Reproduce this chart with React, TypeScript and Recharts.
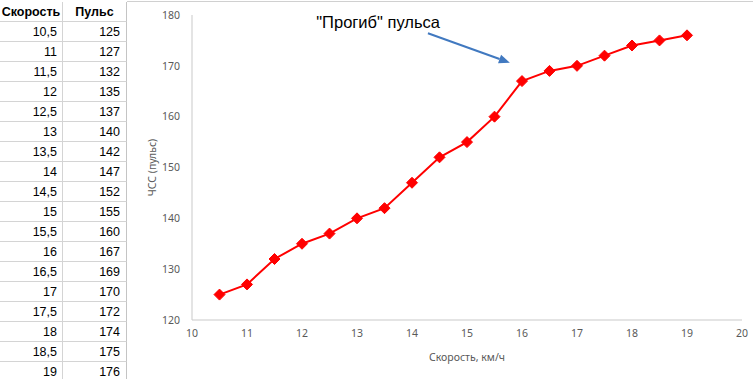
import React from 'react';
import { LineChart, Line, XAxis, YAxis, ReferenceLine } from 'recharts';

const speeds = [10.5, 11, 11.5, 12, 12.5, 13, 13.5, 14, 14.5, 15, 15.5, 16, 16.5, 17, 17.5, 18, 18.5, 19];
const pulses = [125, 127, 132, 135, 137, 140, 142, 147, 152, 155, 160, 167, 169, 170, 172, 174, 175, 176];
const speedLabels = ['10,5', '11', '11,5', '12', '12,5', '13', '13,5', '14', '14,5', '15', '15,5', '16', '16,5', '17', '17,5', '18', '18,5', '19'];
const xTicks = [10, 11, 12, 13, 14, 15, 16, 17, 18, 19, 20];
const yTicks = [120, 130, 140, 150, 160, 170, 180];
const headers = ['Скорость', 'Пульс'];
const annotationText = '"Прогиб" пульса';
const arrowFrom = { x: 14.29, y: 176.4 };
const arrowTo = { x: 15.78, y: 170.6 };

const data = speeds.map((s, i) => ({ speed: s, pulse: pulses[i] }));

const AXIS_COLOR = '#595959';
const LINE_COLOR = '#c9c9c9';
const FONT = '"Noto Sans", "Open Sans", sans-serif';

const Diamond = (props: any) => {
  const { cx, cy, index } = props;
  if (cx == null || cy == null) return null;
  const r = 5.5;
  return (
    <polygon
      key={`d-${index}`}
      points={`${cx},${cy - r} ${cx + r},${cy} ${cx},${cy + r} ${cx - r},${cy}`}
      fill="#ff0000"
      stroke="#ff0000"
    />
  );
};

const ArrowShape = (props: any) => {
  const { x1, y1, x2, y2 } = props;
  if ([x1, y1, x2, y2].some((v) => v == null || isNaN(v))) return null;
  const ang = Math.atan2(y2 - y1, x2 - x1);
  const len = 11;
  const w = 4.5;
  const bx = x2 - len * Math.cos(ang);
  const by = y2 - len * Math.sin(ang);
  const px = -Math.sin(ang);
  const py = Math.cos(ang);
  return (
    <g>
      <line x1={x1} y1={y1} x2={bx} y2={by} stroke="#4179c0" strokeWidth={2} />
      <polygon
        points={`${x2},${y2} ${bx + w * px},${by + w * py} ${bx - w * px},${by - w * py}`}
        fill="#4179c0"
      />
      <text
        x={x1 + 12}
        y={y1 - 5}
        textAnchor="end"
        fontFamily='"Liberation Sans", Arial, sans-serif'
        fontSize={16.5}
        fill="#000"
      >
        {annotationText}
      </text>
    </g>
  );
};

const YLabel = (props: any) => {
  const vb = props.viewBox || {};
  const x = vb.x + 20;
  const y = vb.y + vb.height / 2;
  return (
    <text
      x={x}
      y={y}
      transform={`rotate(-90, ${x}, ${y})`}
      textAnchor="middle"
      dominantBaseline="central"
      fontFamily={FONT}
      fontSize={10.5}
      fill={AXIS_COLOR}
    >
      ЧСС (пульс)
    </text>
  );
};

const XLabel = (props: any) => {
  const vb = props.viewBox || {};
  const x = vb.x + vb.width / 2;
  const y = vb.y + 37;
  return (
    <text
      x={x}
      y={y}
      textAnchor="middle"
      dominantBaseline="central"
      fontFamily={FONT}
      fontSize={10.5}
      fill={AXIS_COLOR}
    >
      Скорость, км/ч
    </text>
  );
};

const ROW_H = 20;
const TABLE_TOP = 1.5;
const COL1_W = 63;
const COL2_W = 64;

const Table = () => {
  const cellBase: React.CSSProperties = {
    position: 'absolute',
    height: ROW_H,
    lineHeight: `${ROW_H}px`,
    fontFamily: '"Liberation Sans", Arial, sans-serif',
    fontSize: 12.5,
    color: '#000',
    whiteSpace: 'nowrap',
    boxSizing: 'border-box',
    borderBottom: '1px solid #d4d4d4',
  };
  const rows: React.ReactNode[] = [];
  rows.push(
    <div key="h1" style={{ ...cellBase, top: TABLE_TOP, left: 0, width: COL1_W, textAlign: 'center', fontWeight: 'bold', borderRight: '1px solid #d4d4d4' }}>
      {headers[0]}
    </div>,
    <div key="h2" style={{ ...cellBase, top: TABLE_TOP, left: COL1_W, width: COL2_W, textAlign: 'center', fontWeight: 'bold', borderRight: '1px solid #c4c4c4' }}>
      {headers[1]}
    </div>
  );
  speedLabels.forEach((s, i) => {
    const top = TABLE_TOP + ROW_H * (i + 1);
    rows.push(
      <div key={`a${i}`} style={{ ...cellBase, top, left: 0, width: COL1_W, textAlign: 'right', paddingRight: 5, borderRight: '1px solid #d4d4d4' }}>
        {s}
      </div>,
      <div key={`b${i}`} style={{ ...cellBase, top, left: COL1_W, width: COL2_W, textAlign: 'right', paddingRight: 6, borderRight: '1px solid #c4c4c4' }}>
        {pulses[i]}
      </div>
    );
  });
  return <>{rows}</>;
};

export default function App() {
  return (
    <div style={{ position: 'absolute', top: 0, left: 0, width: 753, height: 379, background: '#fff', overflow: 'hidden' }}>
      <div style={{ position: 'absolute', top: 0, left: 0, width: 753, height: 379 }}>
        <LineChart
          width={753}
          height={379}
          data={data}
          margin={{ top: 15, right: 11, bottom: 29, left: 132 }}
        >
          <XAxis
            dataKey="speed"
            type="number"
            domain={[10, 20]}
            ticks={xTicks}
            allowDecimals
            tickLine={false}
            axisLine={{ stroke: LINE_COLOR, strokeWidth: 1 }}
            tick={{ fill: AXIS_COLOR, fontSize: 10.5, fontFamily: FONT }}
            tickMargin={4}
            height={30}
            interval={0}
            label={<XLabel />}
          />
          <YAxis
            type="number"
            domain={[120, 180]}
            ticks={yTicks}
            tickLine={false}
            axisLine={{ stroke: LINE_COLOR, strokeWidth: 1 }}
            tick={{ fill: AXIS_COLOR, fontSize: 10.5, fontFamily: FONT }}
            tickMargin={6}
            width={60}
            interval={0}
            label={<YLabel />}
          />
          <ReferenceLine
            segment={[arrowFrom, arrowTo]}
            shape={<ArrowShape />}
            ifOverflow="visible"
          />
          <Line
            type="linear"
            dataKey="pulse"
            stroke="#ff0000"
            strokeWidth={2}
            dot={<Diamond />}
            activeDot={false}
            isAnimationActive={false}
          />
        </LineChart>
      </div>
      <div style={{ position: 'absolute', top: 1, left: 127, width: 626, height: 1, background: '#d0d0d0' }} />
      <Table />
    </div>
  );
}
